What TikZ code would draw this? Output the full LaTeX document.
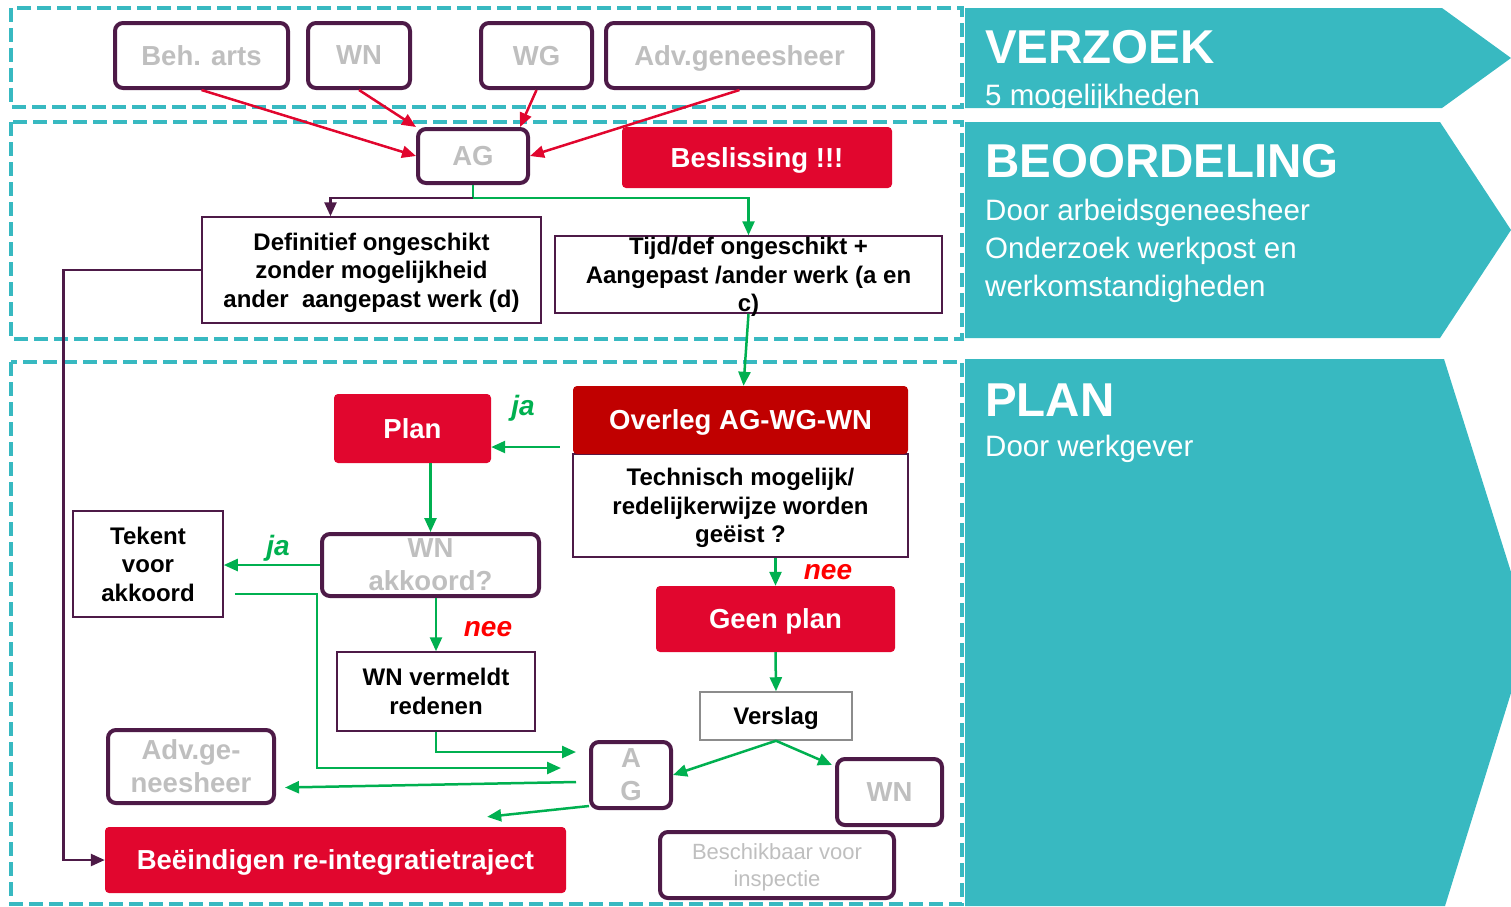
\documentclass[tikz,border=0pt]{standalone}
\usepackage{fontspec}
\setmainfont{Liberation Sans}
\usetikzlibrary{arrows.meta,calc}
\definecolor{kader}{HTML}{38B9C1}
\definecolor{paars}{HTML}{4D1A47}
\definecolor{rood}{HTML}{E1062E}
\definecolor{donkerrood}{HTML}{C00000}
\definecolor{groen}{HTML}{00B050}
\definecolor{grijs}{HTML}{BFBFBF}
\definecolor{grijsrand}{HTML}{8C8C8C}
\begin{document}
\begin{tikzpicture}[x=1pt,y=-1pt,
    stippel/.style={draw=kader,line width=4pt,dash pattern=on 14pt off 6pt},
    persoon/.style={draw=paars,line width=4pt,rounded corners=8pt,fill=white,inner sep=0pt,align=center,
        text depth=0pt,text=grijs,font=\bfseries\fontsize{27.5}{33}\selectfont},
    vak/.style={draw=paars,line width=1.5pt,fill=white,inner sep=0pt,align=center,
        text depth=0pt,font=\bfseries\fontsize{24}{28.5}\selectfont},
    rodebox/.style={fill=rood,rounded corners=4pt,inner sep=0pt,text depth=0pt,text=white,
        font=\bfseries\fontsize{27.5}{33}\selectfont},
    ja/.style={text=groen,font=\bfseries\itshape\fontsize{28}{30}\selectfont},
    nee/.style={text=red,font=\bfseries\itshape\fontsize{28}{30}\selectfont},
    titel/.style={anchor=base west,text=white,inner sep=0pt,font=\bfseries\fontsize{47.5}{50}\selectfont},
    uitleg/.style={anchor=base west,text=white,inner sep=0pt,font=\fontsize{29.5}{38}\selectfont},
    rpijl/.style={draw=rood,line width=2.5pt,-{Triangle[length=14pt,width=12pt]}},
    gpijl/.style={draw=groen,line width=2.5pt,-{Triangle[length=14pt,width=12pt]}},
    ppijl/.style={draw=paars,line width=2.5pt,-{Triangle[length=14pt,width=12pt]}}]
    \useasboundingbox (0,0) rectangle (1511,906);

    % Fasen
    \fill[kader] (965,8) -- (1442,8) -- (1511,58) -- (1442,108) -- (965,108) -- cycle;
    \fill[kader] (965,122) -- (1440,122) -- (1511,230) -- (1440,338) -- (965,338) -- cycle;
    \fill[kader] (965,359) -- (1444,359) -- (1511,572) -- (1511,693) -- (1445,906) -- (965,906) -- cycle;

    \node[titel] (verzoek) at (985,63) {VERZOEK};
    \node[uitleg] (verzoek1) at (985,105) {5 mogelijkheden};
    \node[titel] (beoord) at (985,177) {BEOORDELING};
    \node[uitleg] (beoord1) at (985,220) {Door arbeidsgeneesheer};
    \node[uitleg] (beoord2) at (985,258) {Onderzoek werkpost en};
    \node[uitleg] (beoord3) at (985,296) {werkomstandigheden};
    \node[titel] (plantitel) at (985,416) {PLAN};
    \node[uitleg] (plan1) at (985,456) {Door werkgever};

    \draw[stippel] (11,8) rectangle (962,107);
    \draw[stippel] (11,122) rectangle (962,339);
    \draw[stippel] (11,362) rectangle (962,904);

    % Verzoek
    \node[persoon,minimum width=173,minimum height=65] (beh) at (201.5,55.5) {Beh. arts};
    \node[persoon,minimum width=102,minimum height=65] (wn) at (359,55.5) {WN};
    \node[persoon,minimum width=111,minimum height=65] (wg) at (536.5,55.5) {WG};
    \node[persoon,minimum width=267,minimum height=65] (adv) at (739.5,55.5) {Adv.geneesheer};

    % Beoordeling
    \node[persoon,minimum width=110,minimum height=54] (ag) at (473,156) {AG};
    \node[rodebox,minimum width=270,minimum height=61] (besl) at (757,157.5) {Beslissing !!!};
    \node[vak,minimum width=339,minimum height=106] (defi) at (371.5,270)
        {Definitief ongeschikt\\zonder mogelijkheid\\ander~ aangepast werk (d)};
    \node[vak,minimum width=387,minimum height=77] (tijd) at (748.5,274.5)
        {Tijd/def ongeschikt +\\Aangepast /ander werk (a en\\c)};

    \draw[rpijl] (beh.south) -- (ag.west);
    \draw[rpijl] (wn.south) -- (ag.north west);
    \draw[rpijl] (wg.south) -- ($(ag.north east)+(-10,0)$);
    \draw[rpijl] (adv.south) -- (ag.east);

    \coordinate (splits) at ($(ag.south)+(0,13)$);
    \draw[groen,line width=2.5pt] (ag.south) -- (splits);
    \draw[ppijl] (splits) -| ($(defi.north)+(-41,0)$);
    \draw[gpijl] (splits) -| (tijd.north);

    % Plan
    \node[rodebox,minimum width=157,minimum height=69] (plan) at (412.5,428.5) {Plan};
    \node[vak,minimum width=335,minimum height=103] (techn) at (740.5,505.5)
        {Technisch mogelijk/\\redelijkerwijze worden\\geëist ?};
    \node[rodebox,fill=donkerrood,minimum width=335,minimum height=68] (overleg) at (740.5,420) {Overleg AG-WG-WN};
    \node[persoon,minimum width=217,minimum height=62] (wnak) at (430.5,565) {WN\\akkoord?};
    \node[vak,minimum width=150,minimum height=106] (tekent) at (148,564) {Tekent\\voor\\akkoord};
    \node[rodebox,minimum width=239,minimum height=66] (geen) at (775.5,619) {Geen plan};
    \node[vak,minimum width=198,minimum height=79] (verm) at (436,691.5) {WN vermeldt\\redenen};
    \node[vak,draw=grijsrand,minimum width=152,minimum height=48] (verslag) at (776,716) {Verslag};
    \node[persoon,minimum width=80,minimum height=66] (ag2) at (631,775) {A\\G};
    \node[persoon,minimum width=166,minimum height=73] (advb) at (191,766.5) {Adv.ge-\\neesheer};
    \node[persoon,minimum width=105,minimum height=66] (wnb) at (889.5,792) {WN};
    \node[persoon,font=\fontsize{22}{27}\selectfont,minimum width=234,minimum height=66] (besch) at (777,865)
        {Beschikbaar voor\\inspectie};
    \node[rodebox,minimum width=461,minimum height=66] (stop) at (335.5,860) {Beëindigen re-integratietraject};

    \node[ja] (ja1) at (523,408) {ja};
    \node[ja] (ja2) at (278,548) {ja};
    \node[nee] (nee1) at (488,629) {nee};
    \node[nee] (nee2) at (828,572) {nee};

    \draw[ppijl] (defi.west) -- ++(-138,0) |- (stop.west);
    \draw[gpijl] (tijd.south) -- ($(overleg.north)+(3,0)$);
    \draw[gpijl] ($(overleg.west)+(-13,27)$) -- ($(plan.east)+(0,18.5)$);
    \draw[gpijl] (wnak.north |- plan.south) -- (wnak.north);
    \draw[gpijl] (wnak.west) -- (tekent.east |- wnak.west);
    \draw[gpijl] ($(tekent.east)+(11,30)$) -- ++(82,0) |- ($(ag2.west)+(-28,-7)$);
    \draw[gpijl] (verm.north |- wnak.south) -- (verm.north);
    \draw[gpijl] (verm.south) |- ($(ag2.west)+(-13,-23)$);
    \draw[gpijl] (geen.north |- techn.south) -- (geen.north);
    \draw[gpijl] (geen.south) -- (verslag.north);
    \draw[gpijl] (verslag.south) -- (ag2.east);
    \draw[gpijl] (verslag.south) -- ($(wnb.north west)+(-3,8)$);
    \draw[gpijl] ($(ag2.west)+(-13,7)$) -- ($(advb.east)+(9,21)$);
    \draw[gpijl] ($(ag2.south west)+(0,-4)$) -- ($(stop.north east)+(-79,-10)$);
\end{tikzpicture}
\end{document}
